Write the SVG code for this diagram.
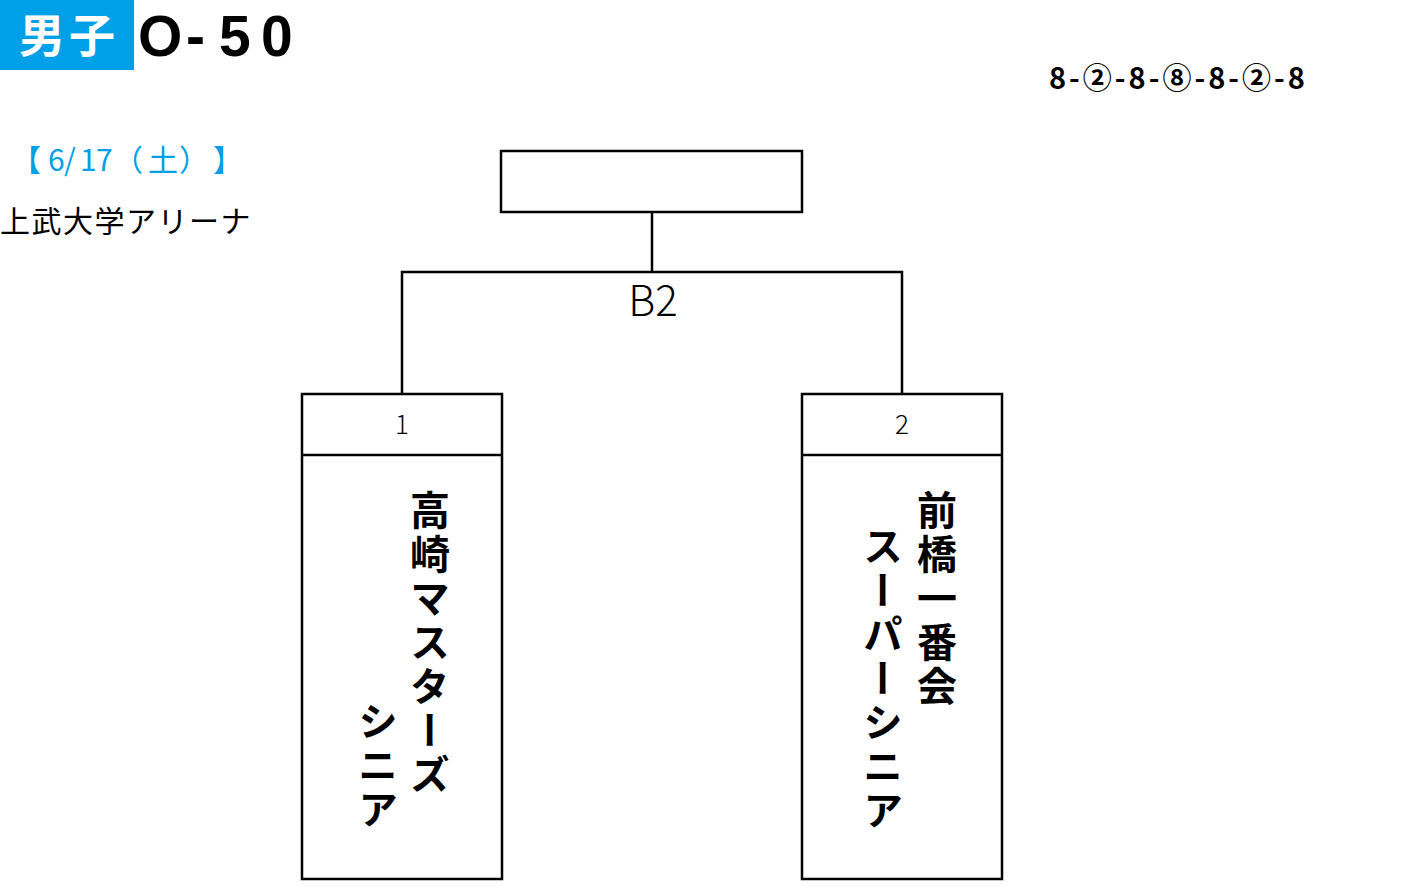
<svg xmlns="http://www.w3.org/2000/svg" width="1404" height="888" viewBox="0 0 1404 888">
<style>
.jp{font-family:"Noto Sans CJK JP","Noto Sans",sans-serif}
.ln{fill:none;stroke:#000;stroke-width:2.5}
.box{fill:#fff;stroke:#000;stroke-width:2.5}
.vt{font-family:"Noto Sans CJK JP",sans-serif;font-size:40px;font-weight:bold;writing-mode:vertical-rl;fill:#000}
.num{font-family:"Noto Sans CJK JP",sans-serif;font-size:26px;font-weight:300;text-anchor:middle;fill:#000}
</style>
<rect width="1404" height="888" fill="#fff"/>
<g id="title">
<rect x="0" y="0" width="134" height="70" fill="#00A0E9"/>
<text class="jp" x="19" y="52" font-size="46" font-weight="bold" fill="#fff" letter-spacing="4">男子</text>
<text x="138 186 219 261" y="56" font-family="Liberation Sans,Arial,sans-serif" font-size="57" font-weight="bold" fill="#000">O-50</text>
</g>
<text id="format" class="jp" x="1049" y="89" font-size="29" font-weight="bold" letter-spacing="3" fill="#000">8-②-8-⑧-8-②-8</text>
<text id="date" class="jp" x="11 48 64 80 96 113 148 179 213" y="171" font-size="30" fill="#00A0E9">【6/17（土）】</text>
<text id="venue" class="jp" x="0" y="232" font-size="30" letter-spacing="1.5" fill="#000">上武大学アリーナ</text>
<g id="connectors">
<path class="ln" d="M652 212 V272 M402 394 V272 H902 V394"/>
</g>
<g id="winner">
<rect class="box" x="501" y="151" width="301" height="61"/>
</g>
<text id="match-label" class="jp" x="653" y="316" font-size="42" font-weight="300" text-anchor="middle" fill="#000">B2</text>
<g id="team1">
<rect class="box" x="302" y="394" width="200" height="485"/>
<line class="ln" x1="302" y1="455" x2="502" y2="455"/>
<text class="num" x="402" y="434">1</text>
<text class="vt" x="430" y="490 534 578 622 666 710 754">高崎マスターズ</text>
<text class="vt" x="378" y="701 745 789">シニア</text>
</g>
<g id="team2">
<rect class="box" x="802" y="394" width="200" height="485"/>
<line class="ln" x1="802" y1="455" x2="1002" y2="455"/>
<text class="num" x="902" y="434">2</text>
<text class="vt" x="937" y="490 534 578 622 666">前橋一番会</text>
<text class="vt" x="883" y="526 570 614 658 702 746 790">スーパーシニア</text>
</g>
</svg>
